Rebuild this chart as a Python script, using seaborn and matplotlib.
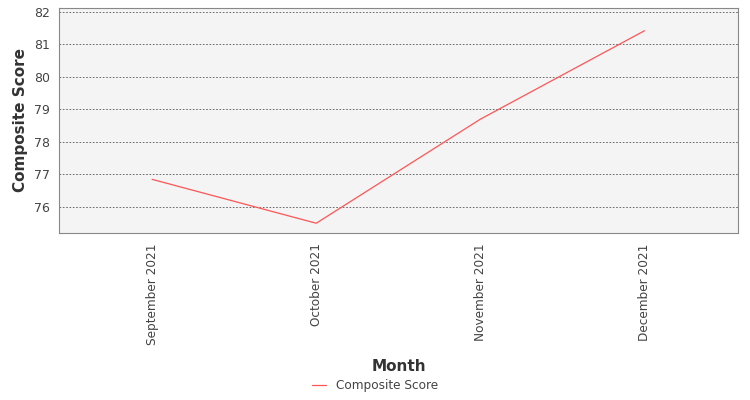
import matplotlib
matplotlib.use("Agg")
import matplotlib.pyplot as plt
import seaborn as sns
import pandas as pd

months = ["September 2021", "October 2021", "November 2021", "December 2021"]
scores = [76.85, 75.5, 78.7, 81.42]

sns.set_style("white")
plt.rcParams['font.family'] = ['DejaVu Sans']
df = pd.DataFrame({"Month": months, "Composite Score": scores})
fig = plt.figure(figsize=(7.5, 4), dpi=100)
ax = fig.add_axes([0.0787, 0.4175, 0.9053, 0.5625])
ax.set_facecolor("#f4f4f4")
x = list(range(len(months)))
sns.lineplot(x=x, y=df["Composite Score"], ax=ax, color="#ff5555", linewidth=0.9, label="Composite Score")
ax.set_xlim(-0.567, 3.57)
ax.set_ylim(75.2, 82.12)
ax.set_xticks(x)
ax.set_xticklabels(months, rotation=90, fontsize=8.7, color="#444444")
ax.set_yticks([76, 77, 78, 79, 80, 81, 82])
ax.tick_params(axis='y', labelsize=9, colors="#444444", length=3)
ax.tick_params(axis='x', length=4, colors="#888888", labelcolor="#444444")
ax.grid(axis='y', color="#555555", linestyle=(0, (2, 2)), linewidth=0.6)
for s in ax.spines.values():
    s.set_color("#888888")
    s.set_linewidth(0.8)
ax.set_xlabel("Month", fontsize=11, color="#333333", labelpad=10, fontweight="semibold")
ax.set_ylabel("Composite Score", fontsize=11, color="#333333", fontweight="semibold")
ax.legend(loc="upper center", bbox_to_anchor=(0.465, -0.6), frameon=False, fontsize=8.7, handlelength=1.2)
for t in ax.get_legend().get_texts():
    t.set_color("#444444")
fig.savefig("out.png", dpi=100)
